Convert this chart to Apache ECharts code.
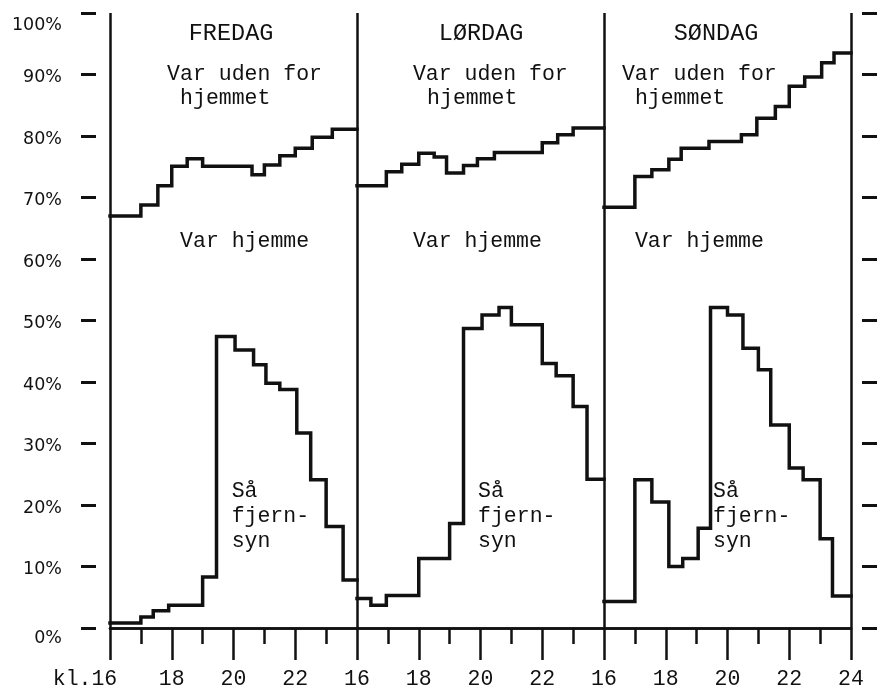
<!DOCTYPE html>
<html>
<head>
<meta charset="utf-8">
<script src="https://cdn.jsdelivr.net/npm/echarts@6/dist/echarts.min.js"></script>
<style>
  html, body { margin: 0; padding: 0; background: #fff; }
  #chart { width: 877px; height: 690px; }
</style>
</head>
<body>
<div id="chart"></div>
<script>
// panels and tick labels
const days = ['FREDAG', 'LØRDAG', 'SØNDAG']
const xTickLabels = ['kl.16', '18', '20', '22', '16', '18', '20', '22', '16', '18', '20', '22', '24']

// "Var uden for hjemmet" (%), step starts in local hours 16-24
const friOutTimes = [16, 17, 17.55, 18, 18.5, 19, 20.6, 21, 21.5, 22, 22.55, 23.2]
const friOutValues = [67, 68.8, 71.9, 75.1, 76.3, 75.1, 73.7, 75.3, 76.8, 78, 79.8, 81.1]
const satOutTimes = [16, 16.95, 17.45, 18, 18.5, 18.9, 19.45, 19.9, 20.45, 22, 22.5, 23]
const satOutValues = [71.9, 74.2, 75.4, 77.2, 76.6, 74, 75.2, 76.3, 77.3, 78.9, 80.2, 81.3]
const sunOutTimes = [16, 17, 17.55, 18.1, 18.5, 19.4, 20.45, 20.95, 21.55, 22, 22.5, 23.05, 23.45]
const sunOutValues = [68.4, 73.4, 74.5, 76.2, 78, 79.1, 80.2, 82.9, 84.8, 88.1, 89.6, 91.9, 93.5]

// "Så fjernsyn" (%)
const friTvTimes = [16, 17, 17.4, 17.9, 19, 19.45, 20.05, 20.65, 21.05, 21.5, 22.05, 22.5, 23, 23.55]
const friTvValues = [0.8, 1.8, 2.8, 3.7, 8.3, 47.4, 45.2, 42.8, 39.8, 38.8, 31.7, 24.1, 16.5, 7.8]
const satTvTimes = [16, 16.45, 16.95, 18, 19, 19.45, 20.05, 20.6, 21, 22, 22.45, 23, 23.45]
const satTvValues = [4.8, 3.7, 5.3, 11.3, 17, 48.7, 50.9, 52.1, 49.3, 43, 41, 36, 24.2]
const sunTvTimes = [16, 17, 17.55, 18.1, 18.55, 19.05, 19.45, 20, 20.5, 21, 21.4, 22, 22.45, 23, 23.4]
const sunTvValues = [4.3, 24.1, 20.5, 10, 11.3, 16.2, 52.1, 50.9, 45.5, 42, 33, 26, 24.1, 14.5, 5.2]

const mono = '"Liberation Mono", "Courier New", monospace'
const sans = '"DejaVu Sans", sans-serif'
const ink = '#111'

const chart = echarts.init(document.getElementById('chart'))

const stepSeries = (times, values, day) => {
  const off = day * 8
  const data = times.map((t, i) => [t + off, values[i]])
  data.push([24 + off, values[values.length - 1]])
  return {
    type: 'line',
    step: 'end',
    data,
    symbol: 'none',
    silent: true,
    lineStyle: { color: ink, width: 3.5, join: 'miter', cap: 'square' }
  }
}

const series = [
  stepSeries(friOutTimes, friOutValues, 0),
  stepSeries(satOutTimes, satOutValues, 1),
  stepSeries(sunOutTimes, sunOutValues, 2),
  stepSeries(friTvTimes, friTvValues, 0),
  stepSeries(satTvTimes, satTvValues, 1),
  stepSeries(sunTvTimes, sunTvValues, 2)
]

const tickLine = { color: ink, width: 2.5 }

const option = {
  animation: false,
  grid: { left: 110, right: 26, top: 13, bottom: 62 },
  xAxis: [
    {
      type: 'value',
      min: 16,
      max: 40,
      interval: 2,
      position: 'bottom',
      axisLine: { show: true, lineStyle: tickLine },
      axisTick: { show: true, length: 32, lineStyle: tickLine },
      minorTick: { show: true, splitNumber: 2, length: 16, lineStyle: tickLine },
      splitLine: { show: false },
      axisLabel: {
        margin: 40,
        color: ink,
        fontFamily: mono,
        fontSize: 21.5,
        formatter: v => {
          const s = xTickLabels[Math.round((v - 16) / 2)]
          return v === 16 ? '{k|' + s + '}' : s
        },
        rich: {
          k: { fontFamily: mono, fontSize: 21.5, color: ink, padding: [0, 50, 0, 0] }
        }
      }
    },
    {
      type: 'value',
      min: 16,
      max: 40,
      interval: 8,
      position: 'top',
      axisLine: { show: true, lineStyle: tickLine },
      axisTick: { show: false },
      axisLabel: { show: false },
      splitLine: { show: true, lineStyle: tickLine }
    }
  ],
  yAxis: [
    {
      type: 'value',
      min: 0,
      max: 100,
      interval: 10,
      position: 'left',
      offset: 14,
      axisLine: { show: false },
      axisTick: { show: true, length: 15, lineStyle: { color: ink, width: 3 } },
      splitLine: { show: false },
      axisLabel: {
        margin: 34,
        formatter: v => {
          const key = v === 100 ? 't' : v === 0 ? 'z' : 'n'
          return '{' + key + '|' + v + '%}'
        },
        rich: {
          t: { fontFamily: sans, fontSize: 17.5, color: ink, padding: [24, 0, 0, 0] },
          z: { fontFamily: sans, fontSize: 17.5, color: ink, padding: [20, 0, 0, 0] },
          n: { fontFamily: sans, fontSize: 17.5, color: ink, padding: [6, 0, 0, 0] }
        }
      }
    },
    {
      type: 'value',
      min: 0,
      max: 100,
      interval: 10,
      position: 'right',
      offset: 11,
      axisLine: { show: false },
      axisTick: { show: true, length: 15, lineStyle: { color: ink, width: 3 } },
      splitLine: { show: false },
      axisLabel: { show: false }
    }
  ],
  series
}

chart.setOption(option)

// annotations, anchored in data coordinates (local hour, %)
const notes = [
  { day: 0, t: 19.92, v: 96.7, text: days[0], size: 23.5, align: 'center' },
  { day: 1, t: 20.02, v: 96.7, text: days[1], size: 23.5, align: 'center' },
  { day: 2, t: 19.63, v: 96.7, text: days[2], size: 23.5, align: 'center' },
  { day: 0, t: 17.85, v: 90.1, text: 'Var uden for' },
  { day: 1, t: 17.81, v: 90.1, text: 'Var uden for' },
  { day: 2, t: 16.58, v: 90.1, text: 'Var uden for' },
  { day: 0, t: 18.27, v: 86.2, text: 'hjemmet' },
  { day: 1, t: 18.27, v: 86.2, text: 'hjemmet' },
  { day: 2, t: 17.0, v: 86.2, text: 'hjemmet' },
  { day: 0, t: 18.27, v: 62.9, text: 'Var hjemme' },
  { day: 1, t: 17.81, v: 62.9, text: 'Var hjemme' },
  { day: 2, t: 17.0, v: 62.9, text: 'Var hjemme' },
  { day: 0, t: 19.94, v: 22.3, text: 'Så\nfjern-\nsyn' },
  { day: 1, t: 19.92, v: 22.3, text: 'Så\nfjern-\nsyn' },
  { day: 2, t: 19.53, v: 22.3, text: 'Så\nfjern-\nsyn' }
]

const graphic = notes.map(n => {
  const p = chart.convertToPixel({ xAxisIndex: 0, yAxisIndex: 0 }, [n.t + n.day * 8, n.v])
  return {
    type: 'text',
    x: p[0],
    y: p[1] - 12,
    silent: true,
    style: {
      text: n.text,
      fontFamily: mono,
      fontSize: n.size || 21.5,
      lineHeight: 25,
      fill: ink,
      align: n.align || 'left',
      verticalAlign: 'top'
    }
  }
})

chart.setOption({ graphic })

window.addEventListener('resize', () => chart.resize())
</script>
</body>
</html>
